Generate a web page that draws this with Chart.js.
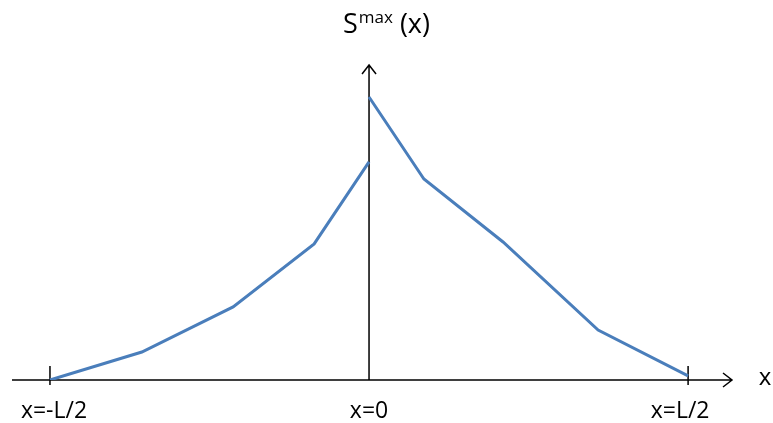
<!DOCTYPE html>
<html>
<head>
<meta charset="utf-8">
<script src="https://cdn.jsdelivr.net/npm/chart.js@4"></script>
<style>
  html, body { margin:0; padding:0; background:#fff; }
  #wrap { width:773px; height:423px; }
</style>
</head>
<body>
<div id="wrap"><canvas id="chart"></canvas></div>
<script>
// x in units of L/2, y in relative units of S max
const leftX  = [-1.0, -0.712, -0.426, -0.172, 0];
const leftY  = [0, 0.088, 0.230, 0.428, 0.686];
const rightX = [0, 0.172, 0.420, 0.718, 1.0];
const rightY = [0.890, 0.632, 0.434, 0.157, 0.013];
const tickValues = [-1, 0, 1];
const tickLabels = ['x=-L/2', 'x=0', 'x=L/2'];

const toPts = (xs, ys) => xs.map((x, i) => ({x: x, y: ys[i]}));

// Axes with arrows, ticks and labels
const axesPlugin = {
  id: 'axes',
  beforeDatasetsDraw(chart) {
    const c = chart.ctx, xs = chart.scales.x, ys = chart.scales.y;
    const a = chart.chartArea;
    const y0 = ys.getPixelForValue(0), x0 = xs.getPixelForValue(0);
    c.save();
    c.strokeStyle = '#000';
    c.lineWidth = 1.5;
    c.beginPath();
    c.moveTo(a.left, y0); c.lineTo(a.right - 3, y0);
    c.moveTo(x0, y0); c.lineTo(x0, a.top + 3);
    // arrow heads
    c.moveTo(a.right - 12, y0 - 7); c.lineTo(a.right - 3, y0); c.lineTo(a.right - 12, y0 + 7);
    c.moveTo(x0 - 7, a.top + 12); c.lineTo(x0, a.top + 3); c.lineTo(x0 + 7, a.top + 12);
    c.stroke();
    // ticks
    c.beginPath();
    tickValues.forEach(v => {
      if (v === 0) return;
      const px = xs.getPixelForValue(v);
      c.moveTo(px, y0 - 14); c.lineTo(px, y0 + 5);
    });
    c.stroke();
    // tick labels
    c.fillStyle = '#000';
    c.font = '23px "Open Sans", "Noto Sans", sans-serif';
    c.textAlign = 'center';
    c.textBaseline = 'middle';
    tickValues.forEach((v, i) => {
      const px = xs.getPixelForValue(v);
      c.fillText(tickLabels[i], px + (v < 0 ? 4 : (v > 0 ? -8 : 0)), y0 + 31);
    });
    c.font = '24px "Open Sans", "Noto Sans", sans-serif';
    c.fillText('x', a.right + 30, y0 - 2);
    // y label: S^max (x)
    c.textAlign = 'left';
    c.textBaseline = 'alphabetic';
    c.font = '27px "Open Sans", "Noto Sans", sans-serif';
    let tx = 343;
    c.fillText('S', tx, 33);
    tx += c.measureText('S').width + 1;
    c.font = '17px "Open Sans", "Noto Sans", sans-serif';
    c.fillText('max', tx, 23);
    tx += c.measureText('max').width;
    c.font = '27px "Open Sans", "Noto Sans", sans-serif';
    c.fillText(' (x)', tx, 33);
    c.restore();
  }
};

new Chart(document.getElementById('chart'), {
  type: 'line',
  data: {
    datasets: [
      { data: toPts(leftX, leftY), borderColor: '#4a7ebb', borderWidth: 3, pointRadius: 0, tension: 0 },
      { data: toPts(rightX, rightY), borderColor: '#4a7ebb', borderWidth: 3, pointRadius: 0, tension: 0 }
    ]
  },
  options: {
    responsive: true,
    maintainAspectRatio: false,
    animation: false,
    layout: { padding: { left: 12, right: 38, top: 62, bottom: 43 } },
    plugins: { legend: { display: false }, tooltip: { enabled: false } },
    scales: {
      x: { type: 'linear', min: -1.119, max: 1.147, display: false },
      y: { min: 0, max: 1, display: false }
    }
  },
  plugins: [axesPlugin]
});
</script>
</body>
</html>
